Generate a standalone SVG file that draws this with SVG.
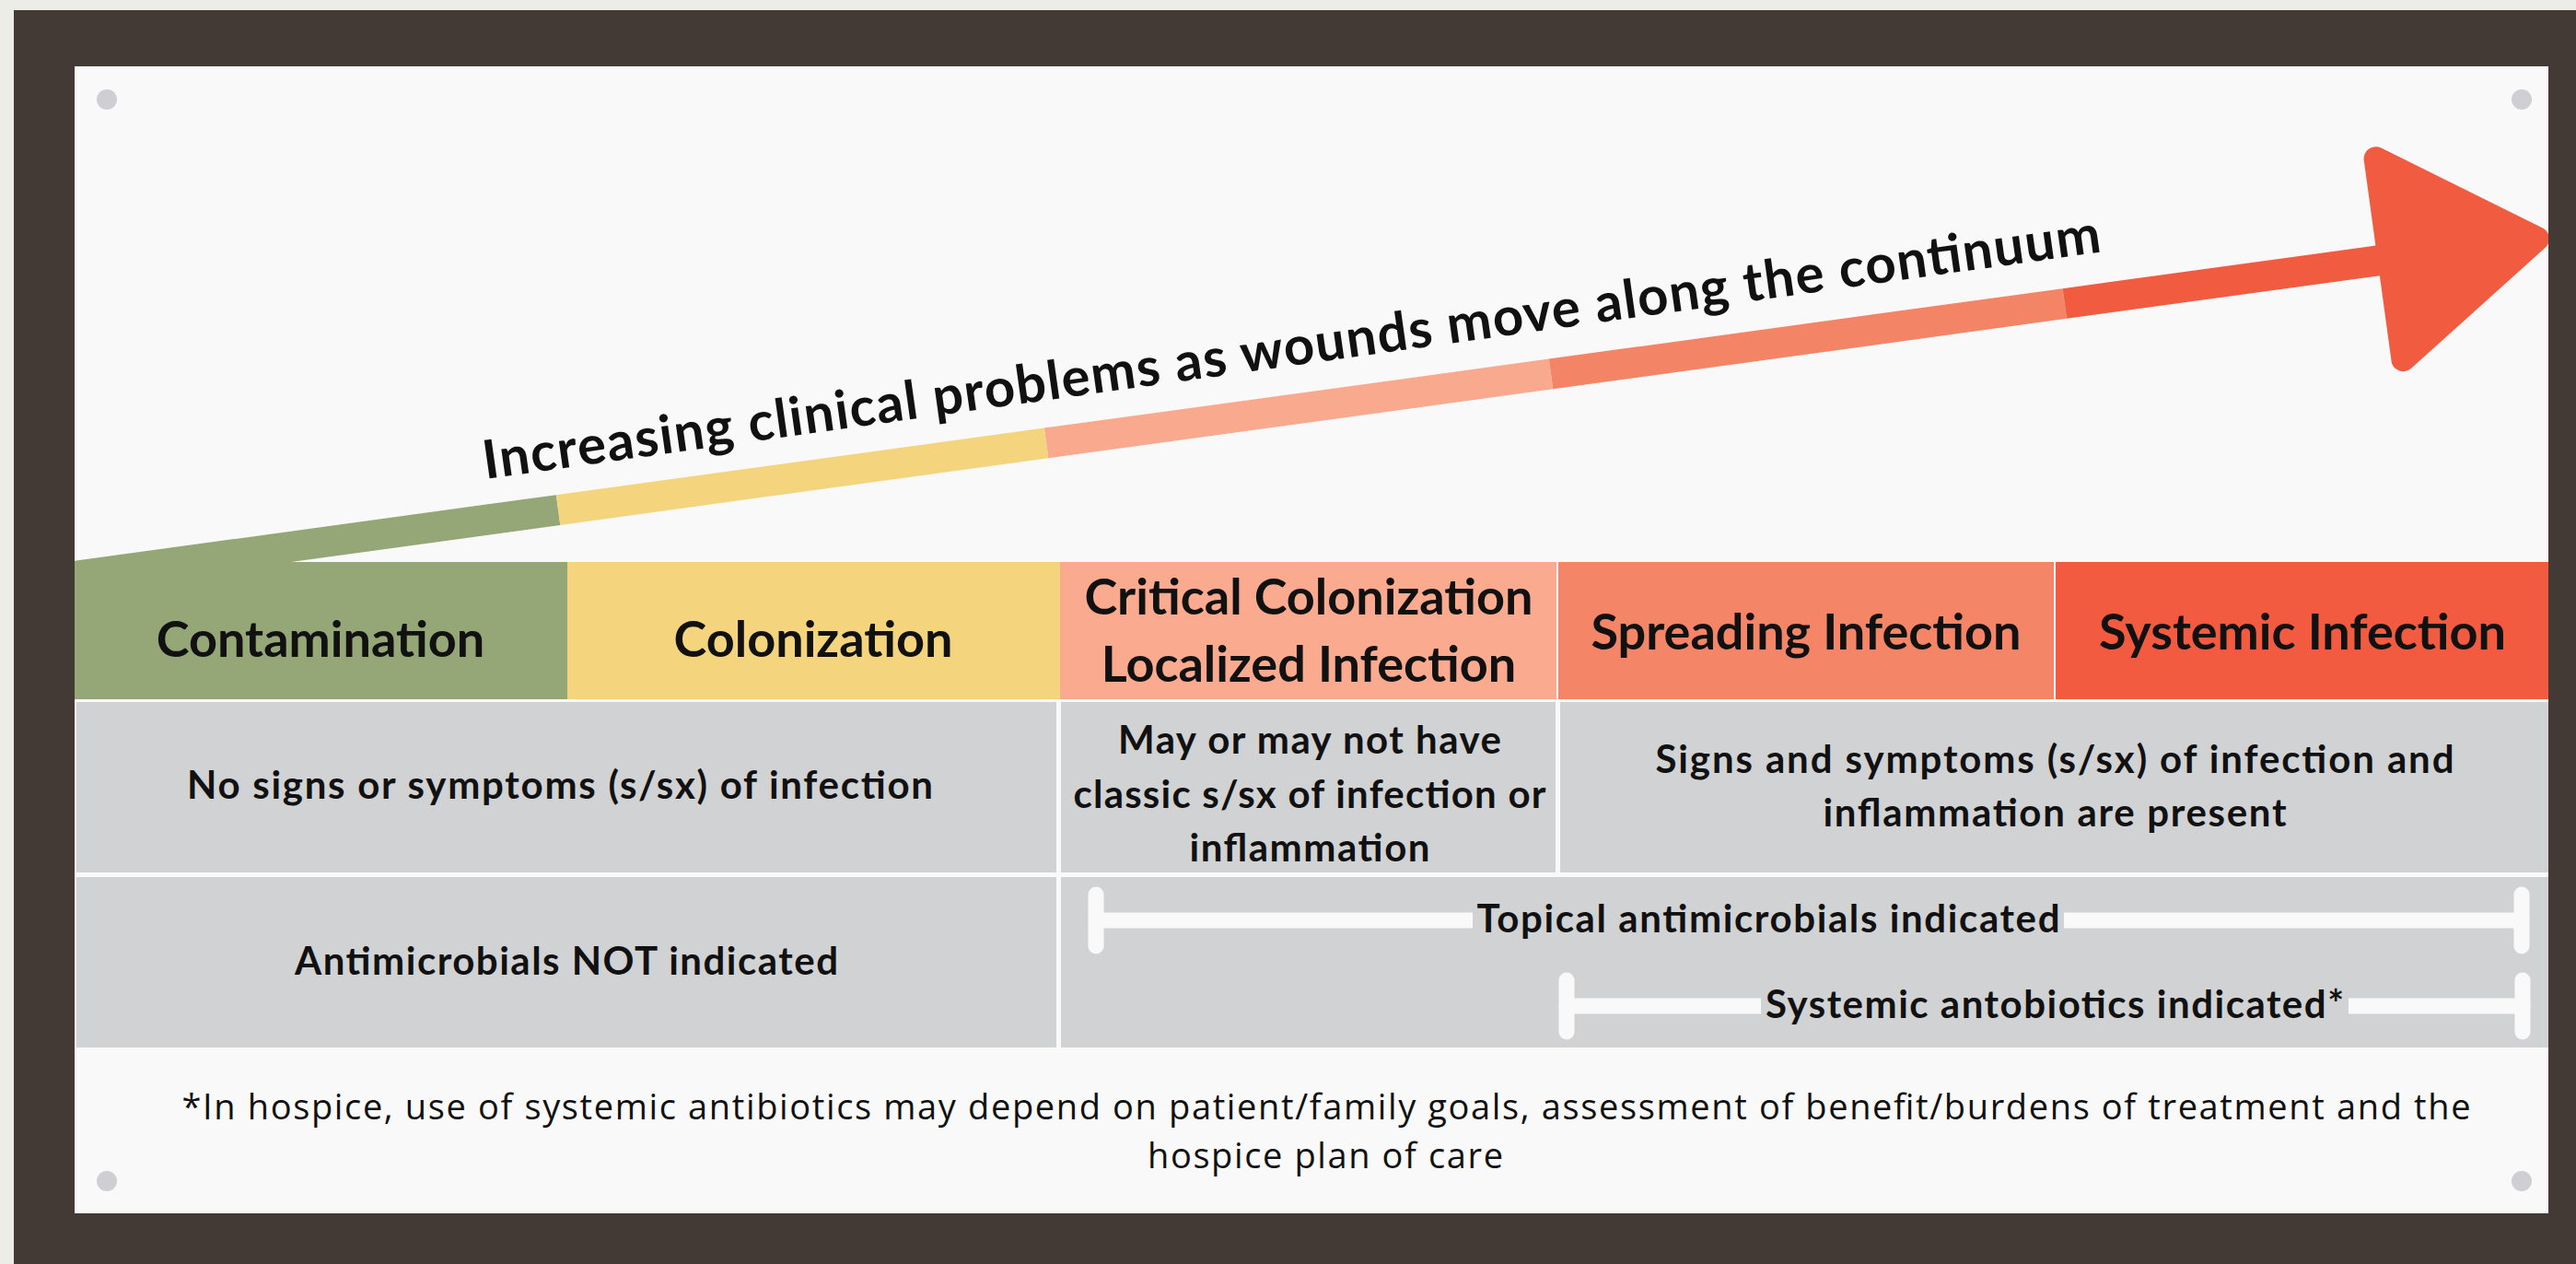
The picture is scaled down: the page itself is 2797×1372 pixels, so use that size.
<svg xmlns="http://www.w3.org/2000/svg" width="2797" height="1372" viewBox="0 0 2797 1372">
<defs>
<style>
.t{font-family:Lato,"Open Sans","Liberation Sans",sans-serif;fill:#111;text-anchor:middle}
.h{font-size:54px;font-weight:700}
.r{font-size:42px;font-weight:700}
.f{font-family:"Open Sans",Lato,"Liberation Sans",sans-serif;font-size:38px;font-weight:400}
.gray{fill:#d1d2d4}
.dot{fill:#cfcfd3}
.bar{stroke:#f9f9f9;stroke-width:17;stroke-linecap:round;fill:none}
</style>
<clipPath id="panelClip"><rect x="81" y="72" width="2686" height="1245"/></clipPath>
</defs>
<rect x="0" y="0" width="2797" height="1372" fill="#ededE8"/>
<rect x="15" y="11" width="2782" height="1361" fill="#433a35"/>
<rect x="81" y="72" width="2686" height="1245" fill="#f9f9f9"/>
<g id="dots">
<circle class="dot" cx="116" cy="108" r="11"/>
<circle class="dot" cx="2738" cy="108" r="11"/>
<circle class="dot" cx="116" cy="1282" r="11"/>
<circle class="dot" cx="2738" cy="1282" r="11"/>
</g>
<g id="continuum-arrow" clip-path="url(#panelClip)">
<g transform="translate(81,625.5) rotate(-7.8)">
<rect x="-20" y="-16.5" width="550" height="33" fill="#95a677"/>
<rect x="530" y="-16.5" width="535" height="33" fill="#f4d47c"/>
<rect x="1065" y="-16.5" width="553" height="33" fill="#f9a98d"/>
<rect x="1618" y="-16.5" width="563" height="33" fill="#f48466"/>
<rect x="2181" y="-16.5" width="360" height="33" fill="#f15c41"/>
<polygon points="2537,-110 2537,110 2699,0" fill="#f15c41" stroke="#f15c41" stroke-width="26" stroke-linejoin="round"/>
</g>
</g>
<text class="t" transform="translate(527,520) rotate(-8)" x="0" y="0" textLength="1773" style="font-size:58px;font-weight:700;text-anchor:start">Increasing clinical problems as wounds move along the continuum</text>
<g id="header">
<g id="contamination"><rect x="81" y="610" width="535" height="149" fill="#95a677"/><text class="t h" x="348" y="713">Contamination</text></g>
<g id="colonization"><rect x="616" y="610" width="535" height="149" fill="#f4d47c"/><text class="t h" x="883" y="713">Colonization</text></g>
<g id="critical"><rect x="1151" y="610" width="539" height="149" fill="#f9aa8f"/><text class="t h" x="1421" y="667">Critical Colonization</text><text class="t h" x="1421" y="740">Localized Infection</text></g>
<g id="spreading"><rect x="1692" y="610" width="538" height="149" fill="#f58567"/><text class="t h" x="1961" y="705">Spreading Infection</text></g>
<g id="systemic"><rect x="2232" y="610" width="535" height="149" fill="#f25b3f"/><text class="t h" x="2500" y="705">Systemic Infection</text></g>
</g>
<g id="signs-row">
<g id="no-signs"><rect class="gray" x="83" y="762" width="1064" height="185"/><text class="t r" x="608" y="867" textLength="810">No signs or symptoms (s/sx) of infection</text></g>
<g id="may-signs"><rect class="gray" x="1152" y="762" width="537" height="185"/><text class="t r" x="1422" y="818" textLength="416">May or may not have</text><text class="t r" x="1422" y="877" textLength="513">classic s/sx of infection or</text><text class="t r" x="1422" y="935" textLength="261">inflammation</text></g>
<g id="signs-present"><rect class="gray" x="1694" y="762" width="1073" height="185"/><text class="t r" x="2231" y="839" textLength="867">Signs and symptoms (s/sx) of infection and</text><text class="t r" x="2231" y="897" textLength="503">inflammation are present</text></g>
</g>
<g id="treatment-row">
<g id="not-indicated"><rect class="gray" x="83" y="952" width="1064" height="185"/><text class="t r" x="615" y="1058" textLength="590">Antimicrobials NOT indicated</text></g>
<g id="indicated"><rect class="gray" x="1152" y="952" width="1615" height="185"/></g>
</g>
<g id="connectors">
<g id="topical-range">
<line class="bar" x1="1190" y1="999" x2="2738" y2="999" stroke-linecap="butt"/>
<line class="bar" x1="1190" y1="971" x2="1190" y2="1027"/>
<line class="bar" x1="2738" y1="971" x2="2738" y2="1027"/>
</g>
<g id="systemic-range">
<line class="bar" x1="1701" y1="1092" x2="2739" y2="1092" stroke-linecap="butt"/>
<line class="bar" x1="1701" y1="1064" x2="1701" y2="1120"/>
<line class="bar" x1="2739" y1="1064" x2="2739" y2="1120"/>
</g>
</g>
<g id="range-labels">
<g id="topical-label"><rect class="gray" x="1599" y="980" width="642" height="40"/><text class="t r" x="1920" y="1012" textLength="633">Topical antimicrobials indicated</text></g>
<g id="systemic-label"><rect class="gray" x="1912" y="1074" width="638" height="38"/><text class="t r" x="2231" y="1105" textLength="628">Systemic antobiotics indicated*</text></g>
</g>
<g id="footnote">
<text class="t f" x="1440" y="1215" textLength="2485">*In hospice, use of systemic antibiotics may depend on patient/family goals, assessment of benefit/burdens of treatment and the</text>
<text class="t f" x="1439" y="1268" textLength="386">hospice plan of care</text>
</g>
</svg>
